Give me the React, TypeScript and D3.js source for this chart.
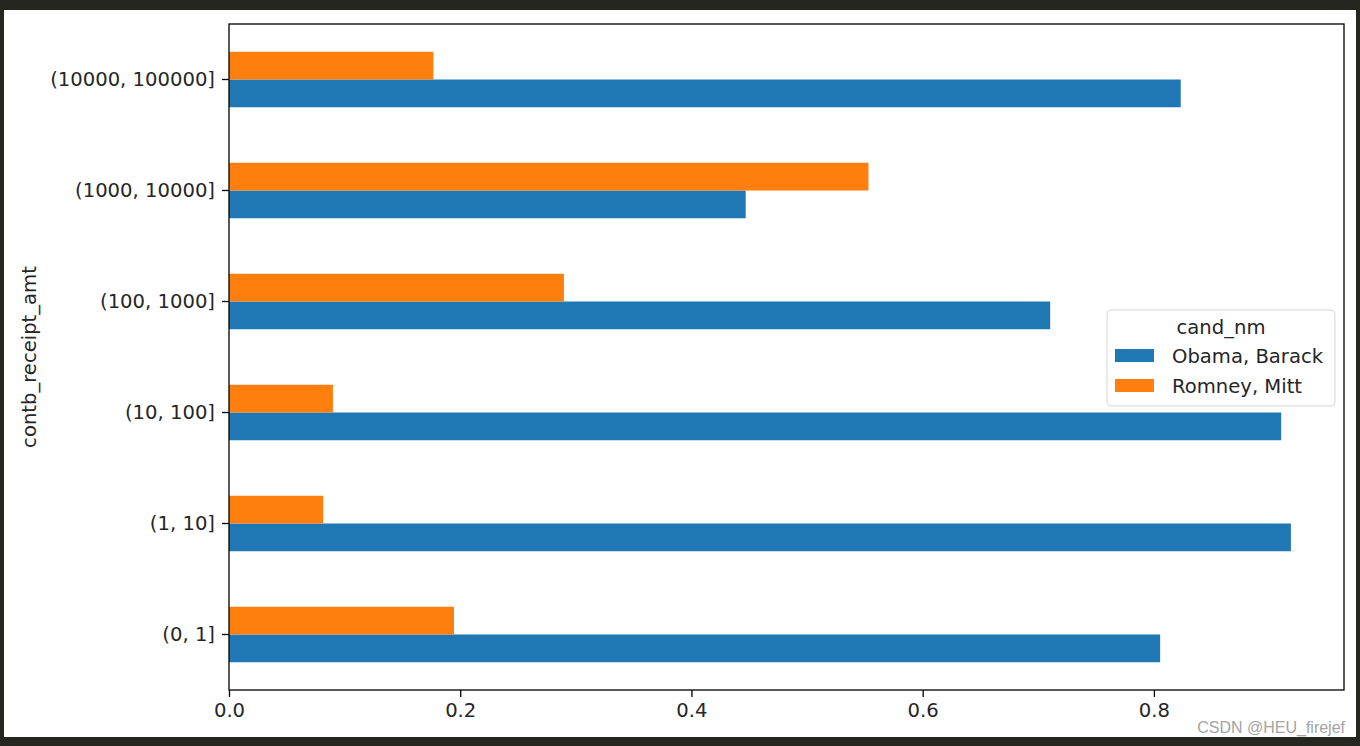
import { useEffect, useRef } from "react";
import * as d3 from "d3";

const categories = ["(0, 1]", "(1, 10]", "(10, 100]", "(100, 1000]", "(1000, 10000]", "(10000, 100000]"];
const seriesNames = ["Obama, Barack", "Romney, Mitt"];
const obama = [0.8054, 0.9185, 0.9101, 0.7103, 0.4469, 0.8232];
const romney = [0.1946, 0.0815, 0.0899, 0.2897, 0.5531, 0.1768];
const xTicks = [0, 0.2, 0.4, 0.6, 0.8];
const colors = ["#1f77b4", "#ff7f0e"];

const FONT = "'DejaVu Sans', sans-serif";
const FS = 19.6;
const TEXT = "#262626";

export default function App() {
  const svgRef = useRef<SVGSVGElement | null>(null);

  useEffect(() => {
    const svg = d3.select(svgRef.current);
    svg.selectAll("*").remove();
    const width = 1360;
    const height = 746;
    const margin = { top: 24, right: 16, bottom: 56, left: 229 };

    // dark frame around the screenshot
    svg.append("rect").attr("width", width).attr("height", height).attr("fill", "#262621");
    svg.append("rect").attr("x", 4).attr("y", 10).attr("width", 1352).attr("height", 727).attr("fill", "#fff");

    const maxVal = d3.max([...obama, ...romney]) as number;
    const x = d3
      .scaleLinear()
      .domain([0, maxVal * 1.05])
      .range([margin.left, width - margin.right]);

    const y = d3
      .scaleBand()
      .domain([...categories].reverse())
      .range([margin.top, height - margin.bottom]);

    const half = y.bandwidth() / 4;
    const cy = (c: string) => (y(c) as number) + y.bandwidth() / 2;

    // Obama below the tick, Romney above
    svg
      .append("g")
      .selectAll("rect")
      .data(categories)
      .join("rect")
      .attr("x", x(0))
      .attr("y", (c) => cy(c))
      .attr("width", (c, i) => x(obama[i]) - x(0))
      .attr("height", half)
      .attr("fill", colors[0]);

    svg
      .append("g")
      .selectAll("rect")
      .data(categories)
      .join("rect")
      .attr("x", x(0))
      .attr("y", (c) => cy(c) - half)
      .attr("width", (c, i) => x(romney[i]) - x(0))
      .attr("height", half)
      .attr("fill", colors[1]);

    const xAxis = svg
      .append("g")
      .attr("transform", `translate(0,${height - margin.bottom})`)
      .call(d3.axisBottom(x).tickValues(xTicks).tickFormat(d3.format(".1f")).tickSize(7).tickPadding(6));

    const yAxis = svg
      .append("g")
      .attr("transform", `translate(${margin.left},0)`)
      .call(d3.axisLeft(y).tickSize(7).tickPadding(7));

    [xAxis, yAxis].forEach((g) => {
      g.select(".domain").remove();
      g.selectAll("line").attr("stroke", "#000").attr("stroke-width", 1.3);
      g.selectAll("text").attr("font-family", FONT).attr("font-size", FS).attr("fill", TEXT);
    });

    // spines
    svg
      .append("rect")
      .attr("x", margin.left)
      .attr("y", margin.top)
      .attr("width", width - margin.right - margin.left)
      .attr("height", height - margin.bottom - margin.top)
      .attr("fill", "none")
      .attr("stroke", "#000")
      .attr("stroke-width", 1.3);

    svg
      .append("text")
      .attr("transform", `translate(36,${(margin.top + height - margin.bottom) / 2}) rotate(-90)`)
      .attr("text-anchor", "middle")
      .attr("font-family", FONT)
      .attr("font-size", FS)
      .attr("fill", TEXT)
      .text("contb_receipt_amt");

    // legend
    const lg = svg.append("g").attr("transform", "translate(1107,310)");
    lg.append("rect")
      .attr("width", 228)
      .attr("height", 96)
      .attr("rx", 4)
      .attr("fill", "#fff")
      .attr("fill-opacity", 0.8)
      .attr("stroke", "#d6d6d6");
    lg.append("text")
      .attr("x", 114)
      .attr("y", 24)
      .attr("text-anchor", "middle")
      .attr("font-family", FONT)
      .attr("font-size", FS)
      .attr("fill", TEXT)
      .text("cand_nm");
    seriesNames.forEach((name, i) => {
      lg.append("rect")
        .attr("x", 8)
        .attr("y", 39 + i * 30)
        .attr("width", 39)
        .attr("height", 13)
        .attr("fill", colors[i]);
      lg.append("text")
        .attr("x", 65)
        .attr("y", 53 + i * 30)
        .attr("font-family", FONT)
        .attr("font-size", FS)
        .attr("fill", TEXT)
        .text(name);
    });

    svg
      .append("text")
      .attr("x", 1345)
      .attr("y", 733)
      .attr("text-anchor", "end")
      .attr("font-family", "'Liberation Sans', Arial, sans-serif")
      .attr("font-size", 16)
      .attr("fill", "#a3a3a3")
      .text("CSDN @HEU_firejef");
  }, []);

  return (
    <div style={{ position: "absolute", left: 0, top: 0 }}>
      <svg ref={svgRef} width={1360} height={746} style={{ display: "block" }} />
    </div>
  );
}
